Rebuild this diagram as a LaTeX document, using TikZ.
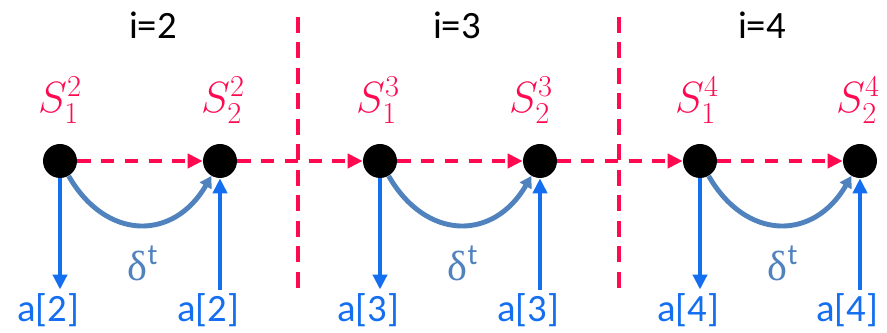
\documentclass[tikz,border=0pt]{standalone}
\usepackage{fontspec}
\setmainfont{Carlito}
\newfontfamily\greekfont{Liberation Serif}
\usetikzlibrary{arrows.meta}
\definecolor{sred}{RGB}{255,10,80}
\definecolor{ablue}{RGB}{20,110,240}
\definecolor{dblue}{RGB}{80,130,190}

\begin{document}
\begin{tikzpicture}[
  x=0.02cm, y=-0.02cm,
  dot/.style={circle, fill=black, minimum size=0.68cm, inner sep=0pt},
  title/.style={font=\fontsize{22}{24}\selectfont, text=black},
  slab/.style={font=\fontsize{27}{30}\selectfont, text=sred},
  alab/.style={font=\fontsize{22}{24}\selectfont, text=ablue, inner sep=1pt},
  dlab/.style={font=\fontsize{24}{26}\selectfont, text=dblue},
  sarr/.style={-{Triangle[length=8.5pt, width=8pt]}, sred, line width=2.2pt,
               dash pattern=on 7.5pt off 6pt},
  divider/.style={sred, line width=2.2pt, dash pattern=on 9pt off 5.5pt},
  aarr/.style={-{Triangle[length=8.5pt, width=8pt]}, ablue, line width=2.2pt},
  darr/.style={-{Triangle[length=6.5pt, width=7.5pt]}, dblue, line width=2.8pt,
               out=-60, in=-120, looseness=1.35}
]
\useasboundingbox (0,0) rectangle (887,333);

% section titles and dividers
\node[title] (t2) at (153,25) {i=2};
\node[title] (t3) at (457,25) {i=3};
\node[title] (t4) at (762,25) {i=4};
\draw[divider] (298,17) -- (298,290);
\draw[divider] (619,17) -- (619,290);

% states
\node[dot] (s12) at (60,161) {};
\node[dot] (s22) at (220,161) {};
\node[dot] (s13) at (380,161) {};
\node[dot] (s23) at (540,161) {};
\node[dot] (s14) at (700,161) {};
\node[dot] (s24) at (860,161) {};

\node[slab] (l12) at (60,100) {$S_1^2$};
\node[slab] (l22) at (223,100) {$S_2^2$};
\node[slab] (l13) at (378,100) {$S_1^3$};
\node[slab] (l23) at (531,100) {$S_2^3$};
\node[slab] (l14) at (697,100) {$S_1^4$};
\node[slab] (l24) at (858,100) {$S_2^4$};

% transitions
\draw[sarr] (s12) -- (s22);
\draw[sarr] (s22) -- (s13);
\draw[sarr] (s13) -- (s23);
\draw[sarr] (s23) -- (s14);
\draw[sarr] (s14) -- (s24);

% actions
\node[alab] (a12) at (48,310) {a[2]};
\node[alab] (a22) at (208,310) {a[2]};
\node[alab] (a13) at (368,310) {a[3]};
\node[alab] (a23) at (528,310) {a[3]};
\node[alab] (a14) at (688,310) {a[4]};
\node[alab] (a24) at (847,310) {a[4]};
\draw[aarr, shorten >=1pt] (s12) -- (s12 |- a12.north);
\draw[aarr, shorten <=1pt] (s22 |- a22.north) -- (s22);
\draw[aarr, shorten >=1pt] (s13) -- (s13 |- a13.north);
\draw[aarr, shorten <=1pt] (s23 |- a23.north) -- (s23);
\draw[aarr, shorten >=1pt] (s14) -- (s14 |- a14.north);
\draw[aarr, shorten <=1pt] (s24 |- a24.north) -- (s24);

% delta arcs
\draw[darr] (s12) to (s22);
\draw[darr] (s13) to (s23);
\draw[darr] (s14) to (s24);
\node[dlab] (d2) at (143,263) {{\greekfont δ}\textsuperscript{t}};
\node[dlab] (d3) at (463,263) {{\greekfont δ}\textsuperscript{t}};
\node[dlab] (d4) at (783,263) {{\greekfont δ}\textsuperscript{t}};
\end{tikzpicture}
\end{document}
